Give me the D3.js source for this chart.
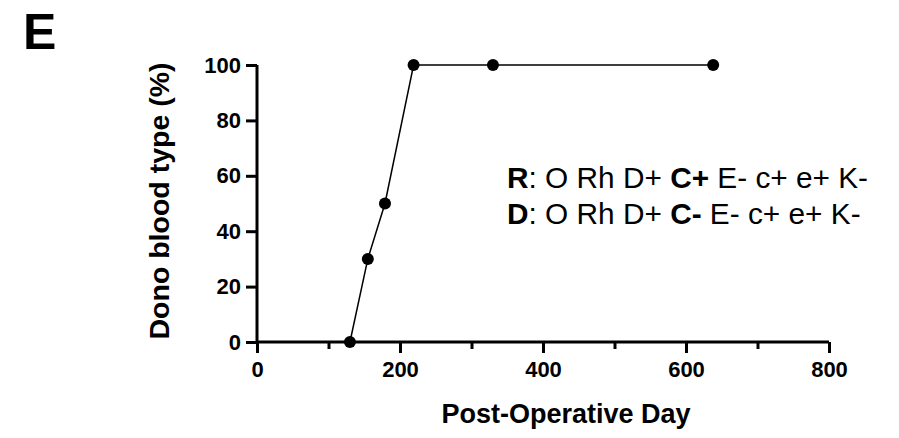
<!DOCTYPE html>
<html><head><meta charset="utf-8">
<script src="https://cdn.jsdelivr.net/npm/d3@7"></script>
<style>body{margin:0;background:#fff}svg{display:block}text{font-family:"Liberation Sans",Arial,sans-serif;fill:#000}</style>
</head><body>
<svg id="c" width="899" height="438"></svg>
<script>
const days = [130, 155, 179, 219, 330, 638];
const donorPct = [0, 30, 50, 100, 100, 100];
const xMajorTicks = [0, 200, 400, 600, 800];
const xMinorTicks = [100, 300, 500, 700];
const yTicks = [0, 20, 40, 60, 80, 100];
const legendLines = [
  [["R", true], [": O Rh D+ ", false], ["C+", true], [" E- c+ e+ K-", false]],
  [["D", true], [": O Rh D+ ", false], ["C-", true], [" E- c+ e+ K-", false]]
];

const svg = d3.select("#c");
const x = d3.scaleLinear().domain([0, 800]).range([257, 829]);
const y = d3.scaleLinear().domain([0, 100]).range([342, 65]);

// panel letter
svg.append("text").attr("x", 23).attr("y", 49).attr("font-size", 50).attr("font-weight", "bold").text("E");

// x axis
const gx = svg.append("g").attr("transform", `translate(0,${y(0)})`);
gx.call(d3.axisBottom(x).tickValues(xMajorTicks).tickSize(11).tickPadding(8).tickFormat(d3.format("d")));
gx.append("g").call(d3.axisBottom(x).tickValues(xMinorTicks).tickSize(7).tickFormat(""))
  .select(".domain").remove();
// y axis
const gy = svg.append("g").attr("transform", `translate(${x(0)},0)`);
gy.call(d3.axisLeft(y).tickValues(yTicks).tickSize(11).tickPadding(5).tickFormat(d3.format("d")));

svg.selectAll(".domain").attr("stroke", "#000").attr("stroke-width", 3);
svg.selectAll(".tick line").attr("stroke", "#000").attr("stroke-width", 3);
svg.selectAll(".tick text").attr("font-size", 22).attr("font-weight", "bold")
  .attr("font-family", "Liberation Sans, Arial, sans-serif").attr("fill", "#000");
gx.select(".domain").attr("d", `M${x(0)},0H${x(800)}`);
gy.select(".domain").attr("d", `M0,${y(0)}V${y(100)}`);

// axis titles
svg.append("text").attr("x", 566).attr("y", 423).attr("text-anchor", "middle")
  .attr("font-size", 27).attr("font-weight", "bold").text("Post-Operative Day");
svg.append("text").attr("transform", `translate(169,201) rotate(-90)`).attr("text-anchor", "middle")
  .attr("font-size", 28.5).attr("font-weight", "bold").text("Dono blood type (%)");

// line and points
const pts = days.map((d, i) => [d, donorPct[i]]);
svg.append("path").datum(pts).attr("fill", "none").attr("stroke", "#000").attr("stroke-width", 1.5)
  .attr("d", d3.line().x(d => x(d[0])).y(d => y(d[1])));
svg.selectAll("circle.pt").data(pts).join("circle").attr("class", "pt")
  .attr("cx", d => x(d[0])).attr("cy", d => y(d[1])).attr("r", 6).attr("fill", "#000");

// legend text
legendLines.forEach((line, i) => {
  const t = svg.append("text").attr("x", 507).attr("y", 188 + i * 36).attr("font-size", 29.8);
  line.forEach(([s, b]) => t.append("tspan").attr("font-weight", b ? "bold" : "normal").text(s));
});
</script>
</body></html>
